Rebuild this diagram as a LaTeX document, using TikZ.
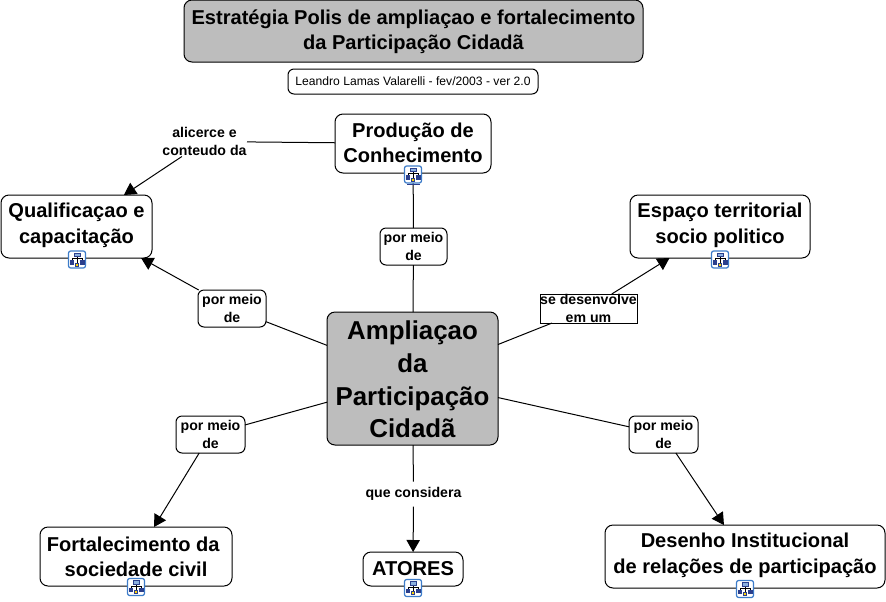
\documentclass[tikz,border=0pt]{standalone}
\usepackage{fontspec}
\setmainfont{Liberation Sans}
\usetikzlibrary{arrows.meta}
\definecolor{mapgray}{HTML}{BDBDBD}
\definecolor{iconblue}{HTML}{3D7CC9}
\definecolor{icondark}{HTML}{2B3F8C}
\tikzset{
  boxsize/.style 2 args={minimum width=#1*0.75pt,minimum height=#2*0.75pt,inner sep=0pt,outer sep=0pt},
  concept/.style={draw=black,fill=white,rounded corners=6pt,align=center,font=\fontsize{15.05}{18.9}\selectfont\bfseries},
  central/.style={concept,fill=mapgray,font=\fontsize{19.4}{24.4}\selectfont\bfseries},
  linkbox/.style={draw=black,fill=white,rounded corners=4.5pt,align=center,font=\fontsize{10.6}{13.6}\selectfont\bfseries},
  linkfree/.style={linkbox,draw=none,rounded corners=0pt},
  linksharp/.style={linkbox,rounded corners=0pt},
  raised/.style={text depth=5pt},
  mapicon/.pic={
    \draw[iconblue,fill=white,line width=0.9pt,rounded corners=1.6pt] (-8.5,-8.5) rectangle (8.5,8.5);
    \draw[black,line width=0.5pt] (0,-3)--(0,5) (-5,1)--(-5,-1)--(5,-1)--(5,1);
    \draw[icondark,fill=iconblue!60,line width=0.5pt] (-3,-6.5) rectangle (3,-3);
    \draw[icondark,fill=icondark,line width=0.5pt] (-7,1) rectangle (-3.5,4.5) (3.5,1) rectangle (7,4.5);
    \draw[icondark,fill=yellow!70!orange,line width=0.5pt] (-1.8,3.5) rectangle (1.8,6.5);
  }
}
\begin{document}
\begin{tikzpicture}[x=0.75pt,y=-0.75pt,>={Triangle[length=9pt,width=10pt]},line width=0.75pt]
\useasboundingbox (0,0) rectangle (886,601);
% main boxes
\node[central,boxsize={459}{62},font=\fontsize{15.05}{18.9}\selectfont\bfseries,text height=31.4pt] (titulo) at (413.5,31) {Estratégia Polis de ampliaçao e fortalecimento\\da Participação Cidadã};
\node[linkbox,boxsize={250}{25},font=\fontsize{9.1}{11}\selectfont] (autor) at (413,81.5) {Leandro Lamas Valarelli - fev/2003 - ver 2.0};
\node[central,boxsize={171}{133},text height=88.8pt] (ampliacao) at (412.5,378.5) {Ampliaçao\\da\\Participação\\Cidadã};
\node[concept,boxsize={156}{59},text depth=1.5pt] (producao) at (413,143.5) {Produção de\\Conhecimento};
\node[concept,boxsize={151}{63},raised] (qualif) at (76.5,226.5) {Qualificaçao e\\capacitação};
\node[concept,boxsize={180}{63},raised] (espaco) at (720,226.5) {Espaço territorial\\socio politico};
\node[concept,boxsize={192}{59}] (fortalec) at (136,556.5) {Fortalecimento da\ \kern0pt\\sociedade civil};
\node[concept,boxsize={100}{34}] (atores) at (413,569) {ATORES};
\node[concept,boxsize={280}{63},raised] (desenho) at (745,556.5) {Desenho Institucional\\de relações de participação};
% linking phrases
\node[linkbox,boxsize={67}{37}] (meiotopo) at (413.5,246.5) {por meio\\de};
\node[linkbox,boxsize={68}{37}] (meioesq) at (232,308.5) {por meio\\de};
\node[linkbox,boxsize={69}{37}] (meiobaixo) at (210.5,434.5) {por meio\\de};
\node[linkbox,boxsize={69}{37}] (meiodir) at (663.5,434.5) {por meio\\de};
\node[linksharp,boxsize={97}{29}] (desenvolve) at (588.5,308.5) {se desenvolve\\em um};
\node[linkfree,boxsize={95}{25}] (considera) at (413.5,494) {que considera};
\node[linkfree,boxsize={85}{30}] (alicerce) at (204.5,141.5) {alicerce e\\conteudo da};
% connectors
\draw (producao)--(meiotopo);
\draw (meiotopo)--(ampliacao);
\draw (producao)--(alicerce);
\draw[->] (alicerce)--(qualif);
\draw (ampliacao)--(meioesq);
\draw[->] (meioesq)--(qualif.-26);
\draw (ampliacao)--(desenvolve);
\draw[->] (desenvolve)--(espaco);
\draw (ampliacao)--(meiobaixo);
\draw[->] (meiobaixo)--(fortalec);
\draw (ampliacao)--(meiodir);
\draw[->] (meiodir)--(desenho);
\draw (ampliacao)--(considera);
\draw[->] (considera)--(atores);
% icons
\pic at (413,174.5) {mapicon};
\fill[icondark] (407,183.5) rectangle (420,185);
\pic at (77,259.5) {mapicon};
\pic at (720,259.5) {mapicon};
\pic at (136,587) {mapicon};
\pic at (413,588) {mapicon};
\pic at (745,589) {mapicon};
\end{tikzpicture}
\end{document}
